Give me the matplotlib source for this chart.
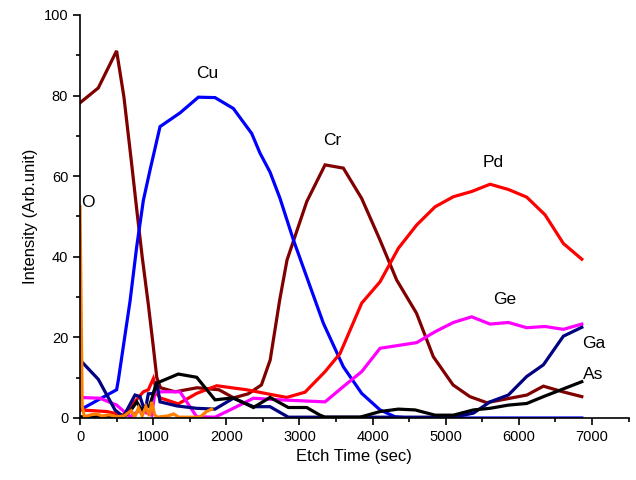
import matplotlib
matplotlib.use("Agg")
import matplotlib.pyplot as plt
from matplotlib.ticker import MultipleLocator

plt.rcParams["font.family"] = ["Liberation Sans", "DejaVu Sans"]

# Depth profile: etch time (s) and intensity (arb. unit) for each element
cr_t = [0, 250, 500, 600, 700, 780, 850, 935, 1000, 1050, 1100, 1300, 1600, 1900,
        2100, 2300, 2480, 2600, 2730, 2830, 3100, 3350, 3600, 3850, 4100, 4330,
        4600, 4830, 5100, 5330, 5560, 5850, 6110, 6335, 6600, 6860]
cr_v = [78.2, 81.9, 91.1, 79.7, 64, 51, 40, 28, 18, 10, 7.5, 6.5, 7.5, 7,
        5, 6, 8.2, 14.4, 29.3, 39.2, 53.7, 62.8, 62, 54.5, 44.2, 34.2,
        26, 15.2, 8.2, 5.3, 3.8, 4.8, 5.7, 7.9, 6.5, 5.3]

cu_t = [0, 500, 524, 684, 775, 866, 957, 1094, 1367, 1618, 1846, 2096, 2347,
        2461, 2598, 2734, 2917, 3099, 3327, 3600, 3851, 4102, 4307, 4500,
        5000, 5500, 6000, 6500, 6860]
cu_v = [2, 7, 9.4, 29, 42.5, 54, 61.5, 72.3, 75.7, 79.6, 79.5, 76.8, 70.6,
        65.7, 61, 54.5, 44.2, 35, 23.5, 12.7, 6.1, 2, 0.3, 0,
        0, 0, 0, 0, 0]

pd_t = [0, 365, 592, 866, 934, 1003, 1060, 1094, 1344, 1595, 1869, 2279, 2560,
        2826, 3076, 3350, 3555, 3851, 4102, 4352, 4603, 4854, 5104, 5355,
        5606, 5856, 6107, 6358, 6608, 6860]
pd_v = [2, 1.6, 0.7, 6.5, 7, 9.8, 5.8, 5, 3.5, 6.1, 8, 7, 6,
        5.1, 6.4, 11.5, 16, 28.5, 33.8, 42.1, 47.9, 52.4, 54.9, 56.2,
        58, 56.7, 54.8, 50.4, 43.3, 39.4]

ge_t = [0, 273, 501, 684, 820, 980, 1025, 1048, 1367, 1595, 1846, 2096, 2370,
        2734, 3350, 3600, 3851, 4102, 4603, 4854, 5104, 5355, 5606, 5856,
        6107, 6358, 6608, 6860]
ge_v = [5.1, 4.9, 3.2, 0.3, 2, 0.7, 6.5, 6.5, 6.5, 0.3, 0.2, 2.4, 4.9,
        4.5, 4, 7.8, 11.5, 17.3, 18.7, 21.4, 23.7, 25.1, 23.3, 23.7,
        22.4, 22.7, 22, 23.3]

ga_t = [0, 250, 478, 592, 752, 820, 889, 934, 1003, 1048, 1094, 1322, 1595,
        1846, 2096, 2370, 2598, 2848, 3200, 3600, 4000, 4500, 5104, 5378,
        5606, 5856, 6107, 6335, 6608, 6860]
ga_v = [14.4, 9.6, 2, 0.3, 5.7, 5.3, 1.6, 6, 6.1, 9, 4, 3, 2.4,
        2.2, 4.9, 2.8, 2.8, 0.2, 0.2, 0.2, 0.2, 0.2, 0.2, 1.2,
        4, 5.7, 10.3, 13.2, 20.3, 22.5]

as_t = [0, 600, 684, 775, 843, 950, 1048, 1094, 1344, 1595, 1846, 2096, 2370,
        2598, 2848, 3099, 3281, 3350, 3828, 4102, 4352, 4580, 4854, 5104,
        5378, 5606, 5856, 6107, 6335, 6860]
as_v = [0.3, 0.3, 1.6, 4, 2, 3, 8.6, 9, 10.9, 10.1, 4.5, 5, 2.6,
        5.1, 2.6, 2.6, 0.7, 0.2, 0.2, 1.6, 2.2, 2, 0.7, 0.7,
        2, 2.4, 3.2, 3.6, 5.3, 9]

o_t = [0, 30, 60, 150, 230, 300, 400, 500, 600, 700, 750, 800, 850, 900, 950,
       980, 1020, 1060, 1100, 1200, 1280, 1350, 1500, 1640, 1730, 1800]
o_v = [52.4, 3, 0.3, 0.8, 1, 0.5, 0.8, 0.3, 0.5, 1.8, 0.3, 2.5, 0.5, 2.8, 0.5,
       4, 0.8, 0.2, 0.3, 0.5, 1, 0.2, 0.2, 0.2, 1.6, 2.2]

series = [
    (cr_t, cr_v, "#800000"),
    (cu_t, cu_v, "#0000ff"),
    (pd_t, pd_v, "#ff0000"),
    (ge_t, ge_v, "#ff00ff"),
    (ga_t, ga_v, "#000080"),
    (as_t, as_v, "#000000"),
    (o_t, o_v, "#ff8000"),
]

labels = [("O", 20, 53.5), ("Cu", 1590, 85.5), ("Cr", 3330, 68.8),
          ("Pd", 5500, 63.5), ("Ge", 5650, 29.5), ("Ga", 6870, 18.5),
          ("As", 6870, 10.8)]

fig = plt.figure(figsize=(6.36, 4.8), dpi=100)
ax = fig.add_axes([0.1258, 0.1292, 0.8626, 0.8396])

for t, v, c in series:
    ax.plot(t, v, color=c, lw=2.3, solid_joinstyle="miter")

for txt, x, y in labels:
    ax.text(x, y, txt, fontsize=12.5, ha="left", va="center")

ax.set_xlim(0, 7500)
ax.set_ylim(0, 100)
ax.xaxis.set_major_locator(MultipleLocator(1000))
ax.xaxis.set_minor_locator(MultipleLocator(500))
ax.yaxis.set_major_locator(MultipleLocator(20))
ax.yaxis.set_minor_locator(MultipleLocator(10))
ax.spines["top"].set_visible(False)
ax.spines["right"].set_visible(False)
for s in ("left", "bottom"):
    ax.spines[s].set_linewidth(1.2)
ax.tick_params(which="major", direction="out", length=5, width=1.2, labelsize=10.5)
ax.tick_params(which="minor", direction="out", length=3, width=1.2)
ax.set_xlabel("Etch Time (sec)", fontsize=12)
ax.set_ylabel("Intensity (Arb.unit)", fontsize=12)

fig.savefig("out.png", dpi=100)
